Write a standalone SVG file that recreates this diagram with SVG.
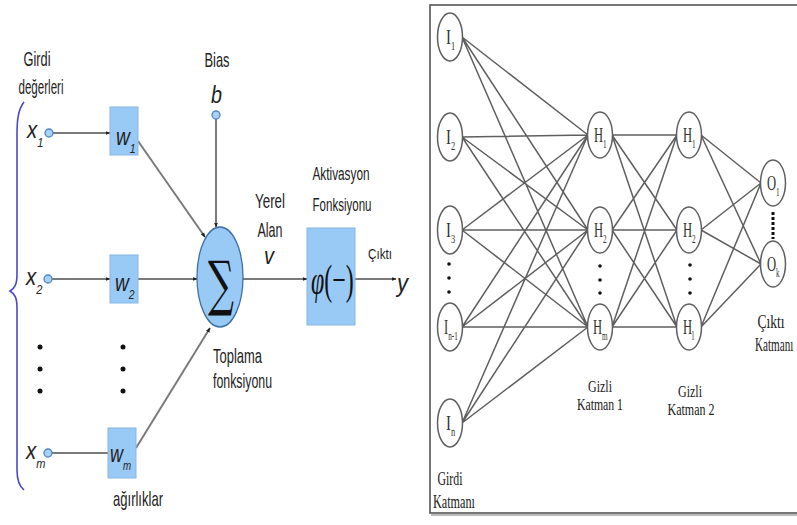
<svg xmlns="http://www.w3.org/2000/svg" width="797" height="525" viewBox="0 0 797 525">
  <style>
    .lbl { font-family: "Liberation Sans", Arial, sans-serif; font-size: 21px; fill: #222; }
    .sm { font-family: "Liberation Sans", Arial, sans-serif; fill: #222; }
    .it { font-family: "Liberation Sans", Arial, sans-serif; font-style: italic; fill: #222; font-size: 24px; }
    .its { font-size: 13px; }
    .wire { stroke: #7a7a7a; stroke-width: 2; fill: none; }
    .arr { marker-end: url(#ah); }
    .box { fill: #99c9f5; stroke: #86b6e6; stroke-width: 1; }
    .pin { fill: #a9d0f5; stroke: #4f86c6; stroke-width: 1.3; }
    .dot { fill: #111; }
    .net { stroke: #5f5f5f; stroke-width: 1.5; fill: none; }
    .nd { fill: #fff; stroke: #5f5f5f; stroke-width: 1.5; }
    .ser { font-family: "Liberation Serif", "Times New Roman", serif; font-size: 18px; fill: #222; }
    .tight { font-size: 16px; }
    .nl { font-family: "Liberation Serif", "Times New Roman", serif; font-size: 21px; fill: #333; }
    .sub { font-size: 12px; }
  </style>
  <defs>
    <marker id="ah" viewBox="0 0 10 10" refX="9" refY="5" markerWidth="5" markerHeight="5" orient="auto" markerUnits="userSpaceOnUse">
      <path d="M0,1 L10,5 L0,9 z" fill="#222"/>
    </marker>
  </defs>

  <rect width="797" height="525" fill="#fff"/>

  <!-- ===== Single neuron model ===== -->
  <g id="input-brace">
    <path d="M24,102 C18,110 17,120 17,135 L17,274 C17,284 15,288 10,291 C15,294 17,298 17,308 L17,470 C17,480 19,486 24,490" fill="none" stroke="#4a4ac8" stroke-width="1.6"/>
    <text class="lbl" x="37" y="66" text-anchor="middle" textLength="27" lengthAdjust="spacingAndGlyphs">Girdi</text>
    <text class="lbl" x="41" y="94" text-anchor="middle" textLength="45" lengthAdjust="spacingAndGlyphs">değerleri</text>
  </g>

  <g id="connectors-left">
    <line class="wire arr" x1="53" y1="133" x2="110" y2="133"/>
    <line class="wire arr" x1="52" y1="279" x2="110" y2="279"/>
    <line class="wire" x1="52" y1="453" x2="108" y2="453"/>
    <line class="wire arr" x1="138" y1="141" x2="205" y2="237"/>
    <line class="wire arr" x1="138" y1="279" x2="197" y2="279"/>
    <line class="wire arr" x1="136" y1="448" x2="210" y2="328"/>
    <line class="wire arr" x1="216" y1="119" x2="216" y2="227"/>
    <line class="wire arr" x1="243" y1="279" x2="307" y2="279"/>
    <line class="wire arr" x1="355" y1="279" x2="396" y2="279"/>
  </g>

  <g id="x1">
    <text class="it" transform="translate(27,138) scale(0.85,1)">x<tspan class="its" dy="9">1</tspan></text>
    <circle class="pin" cx="49" cy="133" r="4"/>
  </g>
  <g id="x2">
    <text class="it" transform="translate(26,285) scale(0.85,1)">x<tspan class="its" dy="9">2</tspan></text>
    <circle class="pin" cx="48" cy="279" r="4"/>
  </g>
  <g id="xm">
    <text class="it" transform="translate(26,459) scale(0.85,1)">x<tspan class="its" dy="9">m</tspan></text>
    <circle class="pin" cx="48" cy="453" r="4"/>
  </g>

  <g id="input-dots">
    <circle class="dot" cx="40" cy="347" r="2.5"/>
    <circle class="dot" cx="40" cy="369" r="2.5"/>
    <circle class="dot" cx="40" cy="391" r="2.5"/>
    <circle class="dot" cx="123" cy="347" r="2.5"/>
    <circle class="dot" cx="123" cy="369" r="2.5"/>
    <circle class="dot" cx="123" cy="391" r="2.5"/>
  </g>

  <g id="w1">
    <rect class="box" x="110" y="107" width="28" height="48"/>
    <text class="it" transform="translate(116,145) scale(0.8,1)">w<tspan class="its" dy="8">1</tspan></text>
  </g>
  <g id="w2">
    <rect class="box" x="110" y="255" width="28" height="48"/>
    <text class="it" transform="translate(115,291) scale(0.8,1)">w<tspan class="its" dy="8">2</tspan></text>
  </g>
  <g id="wm">
    <rect class="box" x="108" y="428" width="28" height="50"/>
    <text class="it" transform="translate(110,462) scale(0.75,1)">w<tspan class="its" dy="8">m</tspan></text>
    <text class="lbl" x="138" y="506" text-anchor="middle" textLength="50" lengthAdjust="spacingAndGlyphs">ağırlıklar</text>
  </g>

  <g id="bias">
    <text class="lbl" x="217" y="67" text-anchor="middle" textLength="25" lengthAdjust="spacingAndGlyphs">Bias</text>
    <text class="it" x="211" y="103" style="font-size:23px" textLength="11" lengthAdjust="spacingAndGlyphs">b</text>
    <circle class="pin" cx="216" cy="115" r="4"/>
  </g>

  <g id="sum">
    <ellipse cx="220" cy="277" rx="23" ry="50" fill="#99c9f5" stroke="#3f70a8" stroke-width="1.3"/>
    <text x="208" y="304" font-family="'DejaVu Serif', serif" font-size="60" fill="#111" textLength="26" lengthAdjust="spacingAndGlyphs">∑</text>
    <text class="lbl" x="213" y="363" textLength="49" lengthAdjust="spacingAndGlyphs">Toplama</text>
    <text class="lbl" x="213" y="388" textLength="59" lengthAdjust="spacingAndGlyphs">fonksiyonu</text>
  </g>

  <g id="local-field">
    <text class="lbl" x="270" y="208" text-anchor="middle" textLength="30" lengthAdjust="spacingAndGlyphs">Yerel</text>
    <text class="lbl" x="270" y="237" text-anchor="middle" textLength="25" lengthAdjust="spacingAndGlyphs">Alan</text>
    <text class="it" x="264" y="264" style="font-size:23px" textLength="10" lengthAdjust="spacingAndGlyphs">v</text>
  </g>

  <g id="activation">
    <text class="sm" x="341" y="180" text-anchor="middle" style="font-size:18px" textLength="57" lengthAdjust="spacingAndGlyphs">Aktivasyon</text>
    <text class="sm" x="342" y="211" text-anchor="middle" style="font-size:18px" textLength="59" lengthAdjust="spacingAndGlyphs">Fonksiyonu</text>
    <rect class="box" x="307" y="228" width="48" height="97"/>
    <text transform="translate(311,294) scale(0.57,1)" font-family="'Liberation Serif', serif" font-size="42" fill="#111"><tspan font-style="italic">φ</tspan>(−)</text>
  </g>

  <g id="output">
    <text class="sm" x="380" y="259" text-anchor="middle" style="font-size:14px" textLength="24" lengthAdjust="spacingAndGlyphs">Çıktı</text>
    <text class="it" x="397" y="292" style="font-size:25px" textLength="11" lengthAdjust="spacingAndGlyphs">y</text>
  </g>

  <!-- ===== Multi-layer network ===== -->
  <g id="frame">
    <line x1="431" y1="515" x2="797" y2="515" stroke="#bbb" stroke-width="2"/>
    <rect x="430" y="5" width="380" height="508" fill="none" stroke="#555" stroke-width="1.6"/>
  </g>

  <g id="connectors-net">
    <!-- input layer to hidden layer 1 -->
    <path class="net" d="M462,37 L588,135 M462,37 L588,230 M462,37 L588,327
      M462,137 L588,135 M462,137 L588,230 M462,137 L588,327
      M462,230 L588,135 M462,230 L588,230 M462,230 L588,327
      M462,327 L588,135 M462,327 L588,230 M462,327 L588,327
      M462,423 L588,135 M462,423 L588,230 M462,423 L588,327"/>
    <!-- hidden layer 1 to hidden layer 2 -->
    <path class="net" d="M612,135 L677,135 M612,135 L677,230 M612,135 L677,327
      M612,230 L677,135 M612,230 L677,230 M612,230 L677,327
      M612,327 L677,135 M612,327 L677,230 M612,327 L677,327"/>
    <!-- hidden layer 2 to output layer -->
    <path class="net" d="M701,135 L761,183 M701,135 L761,264
      M701,230 L761,183 M701,230 L761,264
      M701,327 L761,183 M701,327 L761,264"/>
  </g>

  <g id="I1"><ellipse class="nd" cx="450" cy="37" rx="12.5" ry="24"/><text class="nl" transform="translate(446,44) scale(0.7,1)">I<tspan class="sub" dy="6">1</tspan></text></g>
  <g id="I2"><ellipse class="nd" cx="450" cy="137" rx="12.5" ry="24"/><text class="nl" transform="translate(446,144) scale(0.7,1)">I<tspan class="sub" dy="6">2</tspan></text></g>
  <g id="I3"><ellipse class="nd" cx="450" cy="230" rx="12.5" ry="24"/><text class="nl" transform="translate(446,237) scale(0.7,1)">I<tspan class="sub" dy="6">3</tspan></text></g>
  <g id="In-1"><ellipse class="nd" cx="450" cy="327" rx="12.5" ry="24"/><text class="nl" transform="translate(444,334) scale(0.6,1)">I<tspan class="sub" dy="6">n-1</tspan></text></g>
  <g id="In"><ellipse class="nd" cx="450" cy="423" rx="12.5" ry="24"/><text class="nl" transform="translate(446,430) scale(0.7,1)">I<tspan class="sub" dy="6">n</tspan></text></g>
  <g id="input-dots-net">
    <circle class="dot" cx="449" cy="264" r="1.8"/><circle class="dot" cx="449" cy="278" r="1.8"/><circle class="dot" cx="449" cy="292" r="1.8"/>
  </g>
  <g id="input-layer-label">
    <text class="ser" x="450" y="485" text-anchor="middle" textLength="25" lengthAdjust="spacingAndGlyphs">Girdi</text>
    <text class="ser" x="454" y="508" text-anchor="middle" textLength="42" lengthAdjust="spacingAndGlyphs">Katmanı</text>
  </g>

  <g id="H1-1"><ellipse class="nd" cx="600" cy="135" rx="12.5" ry="23"/><text class="nl" transform="translate(594,142) scale(0.6,1)">H<tspan class="sub" dy="6">1</tspan></text></g>
  <g id="H1-2"><ellipse class="nd" cx="600" cy="230" rx="12.5" ry="23"/><text class="nl" transform="translate(594,237) scale(0.6,1)">H<tspan class="sub" dy="6">2</tspan></text></g>
  <g id="H1-m"><ellipse class="nd" cx="600" cy="327" rx="12.5" ry="23"/><text class="nl" transform="translate(593,334) scale(0.6,1)">H<tspan class="sub" dy="6">m</tspan></text></g>
  <g id="hidden1-dots">
    <circle class="dot" cx="600" cy="266" r="1.8"/><circle class="dot" cx="600" cy="280" r="1.8"/><circle class="dot" cx="600" cy="293" r="1.8"/>
  </g>
  <g id="hidden1-label">
    <text class="ser tight" x="600" y="392" text-anchor="middle" textLength="24" lengthAdjust="spacingAndGlyphs">Gizli</text>
    <text class="ser tight" x="600" y="410" text-anchor="middle" textLength="46" lengthAdjust="spacingAndGlyphs">Katman 1</text>
  </g>

  <g id="H2-1"><ellipse class="nd" cx="689" cy="135" rx="12.5" ry="23"/><text class="nl" transform="translate(683,142) scale(0.6,1)">H<tspan class="sub" dy="6">1</tspan></text></g>
  <g id="H2-2"><ellipse class="nd" cx="689" cy="230" rx="12.5" ry="23"/><text class="nl" transform="translate(683,237) scale(0.6,1)">H<tspan class="sub" dy="6">2</tspan></text></g>
  <g id="H2-l"><ellipse class="nd" cx="689" cy="327" rx="12.5" ry="23"/><text class="nl" transform="translate(683,334) scale(0.6,1)">H<tspan class="sub" dy="6">l</tspan></text></g>
  <g id="hidden2-dots">
    <circle class="dot" cx="690" cy="265" r="1.8"/><circle class="dot" cx="690" cy="279" r="1.8"/><circle class="dot" cx="690" cy="293" r="1.8"/>
  </g>
  <g id="hidden2-label">
    <text class="ser tight" x="690" y="397" text-anchor="middle" textLength="24" lengthAdjust="spacingAndGlyphs">Gizli</text>
    <text class="ser tight" x="691" y="415" text-anchor="middle" textLength="47" lengthAdjust="spacingAndGlyphs">Katman 2</text>
  </g>

  <g id="O1"><ellipse class="nd" cx="773" cy="183" rx="12.5" ry="23"/><text class="nl" transform="translate(767,190) scale(0.6,1)">O<tspan class="sub" dy="6">1</tspan></text></g>
  <g id="Ok"><ellipse class="nd" cx="773" cy="264" rx="12.5" ry="23"/><text class="nl" transform="translate(767,271) scale(0.6,1)">O<tspan class="sub" dy="6">k</tspan></text></g>
  <g id="output-dots">
    <line x1="773" y1="212" x2="773" y2="239" stroke="#111" stroke-width="3" stroke-dasharray="3,2"/>
  </g>
  <g id="output-label">
    <text class="ser" x="771" y="328" text-anchor="middle" textLength="27" lengthAdjust="spacingAndGlyphs">Çıktı</text>
    <text class="ser" transform="translate(755,351) scale(0.62,1)">Katmanı</text>
  </g>
</svg>
